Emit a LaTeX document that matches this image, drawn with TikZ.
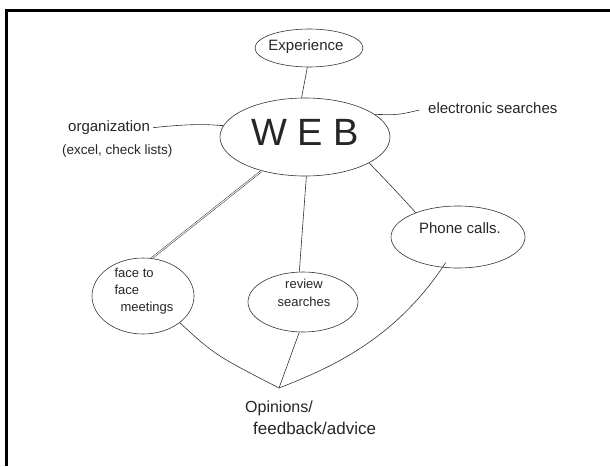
\documentclass[tikz,border=0pt]{standalone}
\usepackage{fontspec}
\setmainfont{Liberation Sans}
\usetikzlibrary{shapes.geometric}
\begin{document}
\begin{tikzpicture}[x=1pt,y=-1pt,
  ink/.style={draw=black!80,line width=0.6pt},
  blob/.style={ellipse,ink,inner sep=0pt},
  hand/.style={text=black!85,font=\fontsize{15}{17}\selectfont,inner sep=0pt},
  frame/.style={draw=black,line width=2.4pt}]
\useasboundingbox (0,0) rectangle (610,466);
\fill[white] (0,0) rectangle (610,466);
\draw[frame] (6.5,466) -- (6.5,10.5) -- (610,10.5);

% ellipses
\node[blob,minimum width=108pt,minimum height=38pt] (exp) at (309,48) {};
\node[hand] (exptxt) at (306,47) {Experience};
\node[blob,minimum width=170pt,minimum height=78pt] (web) at (305,137) {};
\node[hand,font=\fontsize{38}{40}\selectfont] (webtxt) at (305,132) {W E B};
\node[blob,minimum width=134pt,minimum height=62pt] (phone) at (458,237) {};
\node[hand] (phonetxt) at (460,228) {Phone calls.};
\node[blob,minimum width=102pt,minimum height=76pt] (face) at (143,296) {};
\node[hand,align=left,font=\fontsize{13}{17}\selectfont] (facetxt) at (144,291) {face to\\face\\\hspace*{6pt}meetings};
\node[blob,minimum width=110pt,minimum height=60pt] (rev) at (303,302) {};
\node[hand,align=center,font=\fontsize{13}{18}\selectfont] (revtxt) at (304,293) {review\\searches};

% free labels
\node[hand,anchor=west] (elec) at (428,108) {electronic searches};
\node[hand,anchor=west] (org) at (68,128) {organization};
\node[hand,anchor=west,font=\fontsize{13.5}{15}\selectfont] (org2) at (62,151) {(excel, check lists)};
\node[hand,anchor=west,font=\fontsize{16}{18}\selectfont] (op1) at (245,408) {Opinions/};
\node[hand,anchor=west,font=\fontsize{17}{19}\selectfont] (op2) at (253,428) {feedback/advice};
\coordinate (apex) at (279,388);

% connectors
\draw[ink] (exp.-95) -- (web.95);
\draw[ink,shorten >=9pt] (web.18) .. controls (398,115) .. (elec.west);
\draw[ink,shorten <=3pt] (org.east) .. controls (205,122) and (218,126) .. (web.172);
\draw[draw=black!80,line width=0.5pt,double=white,double distance=0.9pt] (web.218) -- (face.77);
\draw[ink] (web.-88) -- (rev.97);
\draw[ink] (web.-22) .. controls (395,190) .. (phone.150);
\draw[ink] (face.-36) .. controls (215,355) .. (apex);
\draw[ink] (rev.-97) -- (apex);
\draw[ink] ([yshift=5pt]phone.-112) .. controls (395,340) and (330,368) .. (apex);
\end{tikzpicture}
\end{document}
